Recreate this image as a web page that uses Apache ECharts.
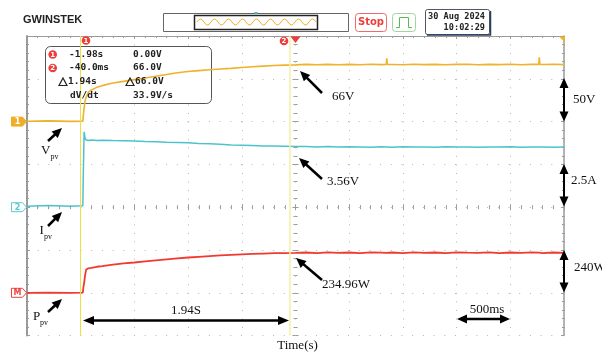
<!DOCTYPE html>
<html>
<head>
<meta charset="utf-8">
<script src="https://cdn.jsdelivr.net/npm/echarts@6/dist/echarts.min.js"></script>
<style>
html, body { margin: 0; padding: 0; background: #fff; }
#chart { width: 602px; height: 356px; }
</style>
</head>
<body>
<div id="chart"></div>
<script>
// time in seconds, relative to the trigger point (screen centre)
const times = [-2.5, -2.3, -2.1, -1.98, -1.975, -1.968, -1.96, -1.95, -1.93, -1.9,
  -1.85, -1.8, -1.7, -1.6, -1.5, -1.4, -1.3, -1.2, -1.1, -1.0,
  -0.9, -0.8, -0.7, -0.6, -0.5, -0.4, -0.3, -0.2, -0.1, 0.0,
  0.1, 0.2, 0.3, 0.4, 0.5, 0.6, 0.7, 0.8, 0.845, 0.85,
  0.855, 0.9, 1.0, 1.1, 1.2, 1.3, 1.4, 1.5, 1.6, 1.7,
  1.8, 1.9, 2.0, 2.1, 2.2, 2.265, 2.27, 2.275, 2.3, 2.4, 2.5];

// CH1, PV voltage (V)
const vpvVolts = [0.4, 0.9, 0.3, 0.6, 8, 16, 24, 28, 34, 37,
  40, 42, 45, 47, 49, 51, 53, 55, 57, 58.5,
  59.5, 60.5, 61.5, 62.2, 63.2, 64, 64.8, 65.5, 66, 66.3,
  66.8, 66.4, 66.9, 66.5, 66.8, 66.4, 67, 66.6, 66.7, 74,
  66.7, 66.7, 66.5, 67, 66.6, 66.9, 66.4, 66.8, 67, 66.5,
  66.9, 66.6, 67, 66.5, 66.8, 66.8, 75, 66.8, 66.7, 67, 66.6];

// CH2, PV current (A)
const ipvAmps = [0.05, 0.1, 0.06, 0.08, 2.2, 4.4, 4.05, 3.92, 3.9, 3.93,
  3.9, 3.91, 3.89, 3.88, 3.86, 3.84, 3.83, 3.8, 3.78, 3.76,
  3.72, 3.7, 3.67, 3.64, 3.62, 3.6, 3.58, 3.57, 3.56, 3.54,
  3.55, 3.52, 3.54, 3.51, 3.53, 3.52, 3.5, 3.53, 3.52, 3.52,
  3.52, 3.5, 3.53, 3.51, 3.52, 3.5, 3.53, 3.51, 3.52, 3.5,
  3.52, 3.51, 3.53, 3.5, 3.52, 3.51, 3.51, 3.51, 3.52, 3.5, 3.52];

// Math channel, PV power (W)
const ppvWatts = [0, 0.8, 0, 0.5, 30, 56, 95, 129, 137, 140,
  146, 149, 158, 165, 170, 176, 182, 188, 193, 198,
  202, 206, 210, 213, 216, 218, 220, 222, 223, 224,
  226, 223, 227, 224, 226, 223, 227, 225, 224, 224,
  224, 226, 223, 227, 224, 226, 223, 227, 225, 224,
  227, 223, 226, 224, 227, 225, 225, 225, 223, 226, 224];

const cursorTimes = [-2.0, -0.05];
const voltsPerDiv = 50, ampsPerDiv = 2.5, wattsPerDiv = 240;
const groundDiv = { ch1: 2, ch2: 0, math: -2 };

const gridLeft = 27, gridTop = 36, gridW = 537, divH = 42.8;
const yOfDiv = (d) => gridTop + (4 - d) * divH;

const serif = '"Liberation Serif", "Times New Roman", serif';
const mono = '"DejaVu Sans Mono", "Liberation Mono", monospace';
const frame = '#9a9a9a';
const dots = '#b4b4b4';
const cYellow = '#eeb22c', cCyan = '#4cc3cc', cRed = '#f03a30', cMark = '#ee3b3b';

const toDiv = (vals, ground, scale) => times.map((t, i) => [t, ground + vals[i] / scale]);

function txt(x, y, s, font, align, color) {
  return {
    type: 'text', z: 20, x: x, y: y,
    style: { text: s, font: font, fill: color || '#111', textAlign: align || 'left', textVerticalAlign: 'middle', align: align || 'left', verticalAlign: 'middle' }
  };
}

function head(x1, y1, x2, y2, len, wid) {
  const d = Math.hypot(x2 - x1, y2 - y1), ux = (x2 - x1) / d, uy = (y2 - y1) / d;
  const bx = x2 - ux * len, by = y2 - uy * len;
  return {
    type: 'polygon', z: 20,
    shape: { points: [[x2, y2], [bx - uy * wid / 2, by + ux * wid / 2], [bx + uy * wid / 2, by - ux * wid / 2]] },
    style: { fill: '#000' }
  };
}

function arrow(x1, y1, x2, y2, both, lw, len, wid) {
  lw = lw || 2.5; len = len || 10; wid = wid || 9;
  const d = Math.hypot(x2 - x1, y2 - y1), ux = (x2 - x1) / d, uy = (y2 - y1) / d;
  const sx = both ? x1 + ux * len * 0.7 : x1, sy = both ? y1 + uy * len * 0.7 : y1;
  const out = [
    { type: 'line', z: 20, shape: { x1: sx, y1: sy, x2: x2 - ux * len * 0.7, y2: y2 - uy * len * 0.7 }, style: { stroke: '#000', lineWidth: lw } },
    head(x1, y1, x2, y2, len, wid)
  ];
  if (both) out.push(head(x2, y2, x1, y1, len, wid));
  return out;
}

function tag(y, label, filled, color) {
  return [
    { type: 'polygon', z: 20, shape: { points: [[11.5, y - 4.5], [22.5, y - 4.5], [26.5, y], [22.5, y + 4.5], [11.5, y + 4.5]] },
      style: { fill: filled ? color : '#fff', stroke: color, lineWidth: 1 } },
    txt(17.5, y + 0.5, label, 'bold 8px "DejaVu Sans"', 'center', filled ? '#fff' : color)
  ];
}

function badge(cx, cy, label) {
  return [
    { type: 'circle', z: 20, shape: { cx: cx, cy: cy, r: 4.3 }, style: { fill: cMark } },
    txt(cx, cy + 0.5, label, 'bold 7px "DejaVu Sans"', 'center', '#fff')
  ];
}

function delta(x, y) {
  return {
    type: 'polygon', z: 20,
    shape: { points: [[x, y + 3.5], [x + 8, y + 3.5], [x + 4, y - 4]] },
    style: { fill: 'none', stroke: '#222', lineWidth: 1.2 }
  };
}

function edgeAxisX(pos, inside) {
  return {
    type: 'value', min: -2.5, max: 2.5, interval: 0.5, position: pos,
    axisLine: { show: pos === 'top', onZero: pos !== 'top', onZeroAxisIndex: 0, lineStyle: { color: frame, width: 1 } },
    axisTick: { show: true, inside: inside, length: 3, lineStyle: { color: frame } },
    minorTick: { show: true, splitNumber: 5, length: 2, lineStyle: { color: frame } },
    axisLabel: { show: false },
    splitLine: { show: pos === 'top', lineStyle: { color: dots, type: [1, 7.56] } }
  };
}

function edgeAxisY(pos, inside, centre, grid) {
  return {
    type: 'value', min: -3, max: 4, interval: 1, position: pos,
    axisLine: { show: !centre, onZero: centre, onZeroAxisIndex: 0, lineStyle: { color: frame, width: pos === 'left' && !centre ? 2 : 1.5 } },
    axisTick: { show: true, inside: inside, length: 3, lineStyle: { color: frame } },
    minorTick: { show: true, splitNumber: 5, length: 2, lineStyle: { color: frame } },
    axisLabel: { show: false },
    splitLine: { show: grid, lineStyle: { color: dots, type: [1, 9.7] } }
  };
}

// small sine icon in the memory bar, drawn as 17 half-wave curves
const sineIcon = [];
for (let i = 0; i < 17; i++) {
  const x0 = 197 + i * 7;
  sineIcon.push({
    type: 'bezierCurve', z: 3,
    shape: { x1: x0, y1: 22, x2: x0 + 7, y2: 22, cpx1: x0 + 3.5, cpy1: i % 2 ? 28 : 16 },
    style: { fill: 'none', stroke: cYellow, lineWidth: 1 }
  });
}

const boxFont = 'bold 9.5px ' + mono;

const graphics = [
  // header
  txt(23, 19.5, 'GWINSTEK', 'bold 11px "Liberation Sans"', 'left', '#222'),
  { type: 'rect', z: 1, shape: { x: 163.5, y: 13.5, width: 185, height: 18 }, style: { fill: '#fff', stroke: '#666', lineWidth: 1 } },
  { type: 'rect', z: 2, shape: { x: 194.5, y: 15.5, width: 123, height: 14 }, style: { fill: 'none', stroke: '#222', lineWidth: 1.5 } },
  ...sineIcon,
  { type: 'polygon', z: 3, shape: { points: [[254, 12], [258, 12], [256, 15.5]] }, style: { fill: cCyan } },
  { type: 'rect', z: 1, shape: { x: 355.5, y: 13.5, width: 31, height: 18, r: 3 }, style: { fill: '#fff', stroke: '#f06a6a', lineWidth: 1 } },
  txt(371, 22.5, 'Stop', 'bold 10px "DejaVu Sans"', 'center', cMark),
  { type: 'rect', z: 1, shape: { x: 392.5, y: 13.5, width: 23, height: 18, r: 3 }, style: { fill: '#fff', stroke: '#9ed89e', lineWidth: 1 } },
  { type: 'polyline', z: 2, shape: { points: [[396, 27.5], [399.5, 27.5], [399.5, 17.5], [408.5, 17.5], [408.5, 27.5], [412, 27.5]] }, style: { stroke: '#55bb55', lineWidth: 1, fill: 'none' } },
  { type: 'rect', z: 1, shape: { x: 425.5, y: 9.5, width: 64, height: 25, r: 2 }, style: { fill: '#fff', stroke: '#556', lineWidth: 1 } },
  { type: 'polyline', z: 2, shape: { points: [[427, 35], [490.5, 35], [490.5, 11]] }, style: { stroke: '#2c3e60', lineWidth: 1.5, fill: 'none' } },
  txt(485, 16.5, '30 Aug 2024', 'bold 8.6px ' + mono, 'right', '#222'),
  txt(485, 27.5, '10:02:29', 'bold 8.6px ' + mono, 'right', '#222'),

  // cursor / trigger markers along the top edge
  ...badge(86, 40.5, '1'),
  ...badge(284, 41, '2'),
  { type: 'polygon', z: 20, shape: { points: [[290.5, 36.5], [300.5, 36.5], [295.5, 43]] }, style: { fill: cMark } },
  { type: 'polygon', z: 20, shape: { points: [[559, 36.5], [565, 36.5], [565, 42.5]] }, style: { fill: cYellow } },

  // cursor readout box
  { type: 'rect', z: 1, shape: { x: 45.5, y: 46.5, width: 166, height: 57, r: 5 }, style: { fill: '#fff', stroke: '#555', lineWidth: 1 } },
  ...badge(52.7, 54.5, '1'),
  ...badge(52.7, 68, '2'),
  txt(69, 54.5, '-1.98s', boxFont, 'left', '#222'),
  txt(133, 54.5, '0.00V', boxFont, 'left', '#222'),
  txt(69, 68, '-40.0ms', boxFont, 'left', '#222'),
  txt(133, 68, '66.0V', boxFont, 'left', '#222'),
  delta(59, 82), txt(68, 82, '1.94s', boxFont, 'left', '#222'),
  delta(126, 82), txt(135, 82, '66.0V', boxFont, 'left', '#222'),
  txt(70, 96, 'dV/dt', boxFont, 'left', '#222'),
  txt(133, 96, '33.9V/s', boxFont, 'left', '#222'),

  // channel ground tags
  ...tag(yOfDiv(groundDiv.ch1), '1', true, '#f0ae28'),
  ...tag(yOfDiv(groundDiv.ch2), '2', false, '#5cc8d0'),
  ...tag(yOfDiv(groundDiv.math), 'M', false, '#f04040'),

  // annotations
  txt(41, 151, 'V', '13px ' + serif), txt(50.5, 156.5, 'pv', '8px ' + serif),
  txt(39.5, 231, 'I', '13px ' + serif), txt(44, 236.5, 'pv', '8px ' + serif),
  txt(33, 317, 'P', '13px ' + serif), txt(40, 322.5, 'pv', '8px ' + serif),
  ...arrow(48, 141, 62, 128),
  ...arrow(48, 226, 62, 212),
  ...arrow(48, 312, 62, 299),
  ...arrow(322, 93, 300, 71),
  ...arrow(322, 179, 299, 158),
  ...arrow(322, 280, 296, 258),
  txt(332, 97, '66V', '13px ' + serif),
  txt(327, 182, '3.56V', '13px ' + serif),
  txt(322, 285, '234.96W', '13px ' + serif),
  ...arrow(83, 320.5, 289, 320.5, true, 2.5, 11, 9),
  txt(186, 311, '1.94S', '13px ' + serif, 'center'),
  ...arrow(457, 319, 510, 319, true, 2.5, 10, 9),
  txt(487, 310, '500ms', '13px ' + serif, 'center'),
  txt(297.5, 346, 'Time(s)', '13px ' + serif, 'center'),
  ...arrow(564, 78, 564, 121.5, true, 2, 10, 9),
  ...arrow(564, 164, 564, 206.5, true, 2, 10, 9),
  ...arrow(564, 250, 564, 292.5, true, 2, 10, 9),
  txt(573, 100, '50V', '13px ' + serif),
  txt(571, 181, '2.5A', '13px ' + serif),
  txt(574, 268, '240W', '13px ' + serif)
];

const option = {
  animation: false,
  backgroundColor: '#fff',
  grid: { left: gridLeft, top: gridTop, width: gridW, height: 7 * divH },
  xAxis: [edgeAxisX('top', true), edgeAxisX('bottom', true), edgeAxisX('bottom', false)],
  yAxis: [
    edgeAxisY('left', true, false, true),
    edgeAxisY('right', true, false, false),
    edgeAxisY('left', true, true, false),
    edgeAxisY('left', false, true, false)
  ],
  series: [
    {
      name: 'Ppv', type: 'line', showSymbol: false, data: toDiv(ppvWatts, groundDiv.math, wattsPerDiv),
      lineStyle: { color: cRed, width: 1.8 }, itemStyle: { color: cRed },
      markLine: {
        silent: true, symbol: ['none', 'none'], label: { show: false },
        data: [
          { xAxis: cursorTimes[0], lineStyle: { color: '#eee040', width: 1, type: 'solid' } },
          { xAxis: cursorTimes[1], lineStyle: { color: '#f3efa6', width: 1.5, type: 'solid' } }
        ]
      }
    },
    {
      name: 'Ipv', type: 'line', showSymbol: false, data: toDiv(ipvAmps, groundDiv.ch2, ampsPerDiv),
      lineStyle: { color: cCyan, width: 1.5 }, itemStyle: { color: cCyan }
    },
    {
      name: 'Vpv', type: 'line', showSymbol: false, data: toDiv(vpvVolts, groundDiv.ch1, voltsPerDiv),
      lineStyle: { color: cYellow, width: 1.6 }, itemStyle: { color: cYellow }
    }
  ],
  graphic: { elements: graphics }
};

const chart = echarts.init(document.getElementById('chart'));
chart.setOption(option);
</script>
</body>
</html>
